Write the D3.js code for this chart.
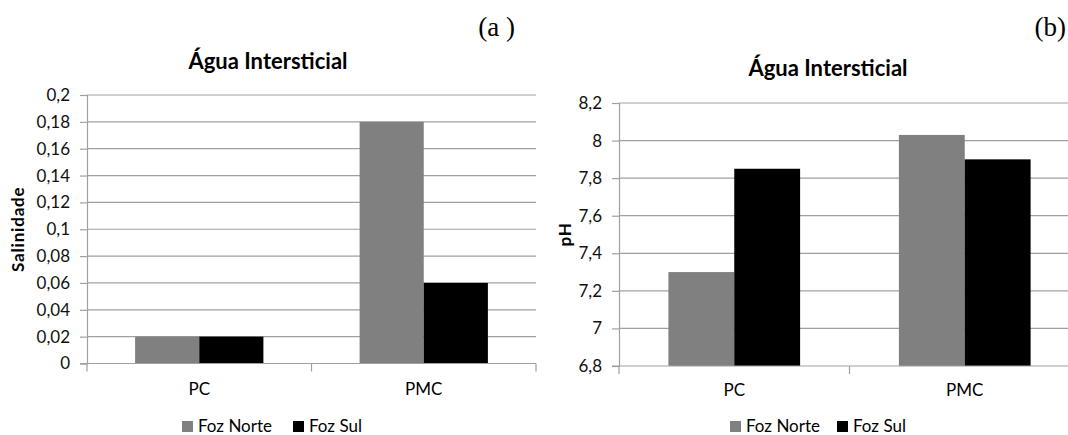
<!DOCTYPE html>
<html>
<head>
<meta charset="utf-8">
<script src="https://cdn.jsdelivr.net/npm/d3@7"></script>
<style>
  html, body { margin: 0; padding: 0; background: #fff; }
  svg { display: block; }
  text { font-family: Lato, "Open Sans", sans-serif; fill: #111; }
</style>
</head>
<body>
<svg id="chart" width="1068" height="435"></svg>
<script>
// Sampling points and the two river mouths
const categories = ["PC", "PMC"];
const series = ["Foz Norte", "Foz Sul"];
const seriesColors = ["#808080", "#000000"];

// (a) salinity of interstitial water
const salinidadeNorte = [0.02, 0.18];
const salinidadeSul = [0.02, 0.06];
const salinidadeTicks = [0, 0.02, 0.04, 0.06, 0.08, 0.1, 0.12, 0.14, 0.16, 0.18, 0.2];

// (b) pH of interstitial water
const phNorte = [7.3, 8.03];
const phSul = [7.85, 7.9];
const phTicks = [6.8, 7, 7.2, 7.4, 7.6, 7.8, 8, 8.2];

// Portuguese number formatting (decimal comma)
const ptBR = d3.formatLocale({ decimal: ",", thousands: ".", grouping: [3], currency: ["R$", ""] });
const fmt = ptBR.format("~g");

const svg = d3.select("#chart");

function drawPanel(cfg) {
  const g = svg.append("g");
  const y = d3.scaleLinear().domain(cfg.domain).range([cfg.bottom, cfg.top]);
  const x0 = d3.scaleBand().domain(categories).range([cfg.left, cfg.right]).padding(0);
  const bw = x0.bandwidth();
  const x1 = d3.scaleBand().domain(series).range([bw * 0.75 / 3.5, bw * 2.75 / 3.5]).padding(0);

  // horizontal gridlines
  g.append("g").selectAll("line").data(cfg.ticks.slice(1)).join("line")
    .attr("x1", cfg.left).attr("x2", cfg.right)
    .attr("y1", d => y(d)).attr("y2", d => y(d))
    .attr("stroke", "#a0a0a0").attr("stroke-width", 1.2);

  // bars
  const rows = categories.map((c, i) => ({ cat: c, vals: [cfg.a[i], cfg.b[i]] }));
  g.append("g").selectAll("g").data(rows).join("g")
    .attr("transform", d => `translate(${x0(d.cat)},0)`)
    .selectAll("rect").data(d => d.vals.map((v, j) => ({ s: series[j], v, j }))).join("rect")
    .attr("x", d => x1(d.s)).attr("width", x1.bandwidth())
    .attr("y", d => y(d.v)).attr("height", d => cfg.bottom - y(d.v))
    .attr("fill", d => seriesColors[d.j]);

  // value axis
  const yAxis = d3.axisLeft(y).tickValues(cfg.ticks).tickFormat(fmt).tickSizeOuter(0).tickSize(7).tickPadding(10);
  const ya = g.append("g").attr("transform", `translate(${cfg.left},0)`).call(yAxis);
  ya.select(".domain").attr("stroke", "#a0a0a0").attr("stroke-width", 1.2);
  ya.selectAll(".tick line").attr("stroke", "#a0a0a0").attr("stroke-width", 1.2);
  ya.selectAll(".tick text").style("font-size", "17px").style("font-family", "Lato").attr("fill", "#000");

  // category axis
  g.append("line").attr("x1", cfg.left - 7).attr("x2", cfg.right)
    .attr("y1", cfg.bottom).attr("y2", cfg.bottom)
    .attr("stroke", "#a0a0a0").attr("stroke-width", 1.2);
  const bounds = [cfg.left, ...categories.slice(1).map(c => x0(c)), cfg.right];
  g.append("g").selectAll("line").data(bounds).join("line")
    .attr("x1", d => d).attr("x2", d => d)
    .attr("y1", cfg.bottom).attr("y2", cfg.bottom + 8)
    .attr("stroke", "#a0a0a0").attr("stroke-width", 1.2);
  g.append("g").selectAll("text").data(categories).join("text")
    .attr("x", d => x0(d) + bw / 2).attr("y", cfg.catY)
    .attr("text-anchor", "middle").style("font-size", "17px").style("fill", "#000")
    .text(d => d);

  // title
  g.append("text").attr("x", cfg.titleX).attr("y", cfg.titleY)
    .attr("text-anchor", "middle").style("font-size", "22px").style("font-weight", "bold")
    .style("fill", "#000")
    .text("Água Intersticial");

  // axis title
  g.append("text")
    .attr("transform", `translate(${cfg.ylabX},${(cfg.top + cfg.bottom) / 2}) rotate(-90)`)
    .attr("text-anchor", "middle").style("font-size", "17px").style("font-weight", "bold")
    .style("letter-spacing", "0.8px").style("fill", "#000")
    .text(cfg.ylabel);

  // panel letter
  g.append("text").attr("x", cfg.tagX).attr("y", 36)
    .attr("text-anchor", "end")
    .style("font-family", "'Liberation Serif', 'Times New Roman', serif").style("font-size", "27px")
    .style("fill", "#000")
    .text(cfg.tag);

  // legend
  const lg = g.append("g").attr("transform", `translate(${cfg.legX},0)`);
  const offsets = [0, cfg.legGap];
  series.forEach((s, i) => {
    lg.append("rect").attr("x", offsets[i]).attr("y", 421).attr("width", 11).attr("height", 11)
      .attr("fill", seriesColors[i]);
    lg.append("text").attr("x", offsets[i] + 16).attr("y", 432)
      .style("font-size", "17px").style("fill", "#000").text(s);
  });
}

drawPanel({
  domain: [0, 0.2], ticks: salinidadeTicks, a: salinidadeNorte, b: salinidadeSul,
  left: 87, right: 536, top: 95, bottom: 363.5,
  titleX: 268, titleY: 69, ylabX: 24, ylabel: "Salinidade",
  catY: 395, tag: "(a )", tagX: 515, legX: 182, legGap: 111
});

drawPanel({
  domain: [6.8, 8.2], ticks: phTicks, a: phNorte, b: phSul,
  left: 619, right: 1080, top: 103, bottom: 366,
  titleX: 828, titleY: 76, ylabX: 571, ylabel: "pH",
  catY: 396, tag: "(b)", tagX: 1066, legX: 730, legGap: 107
});
</script>
</body>
</html>
